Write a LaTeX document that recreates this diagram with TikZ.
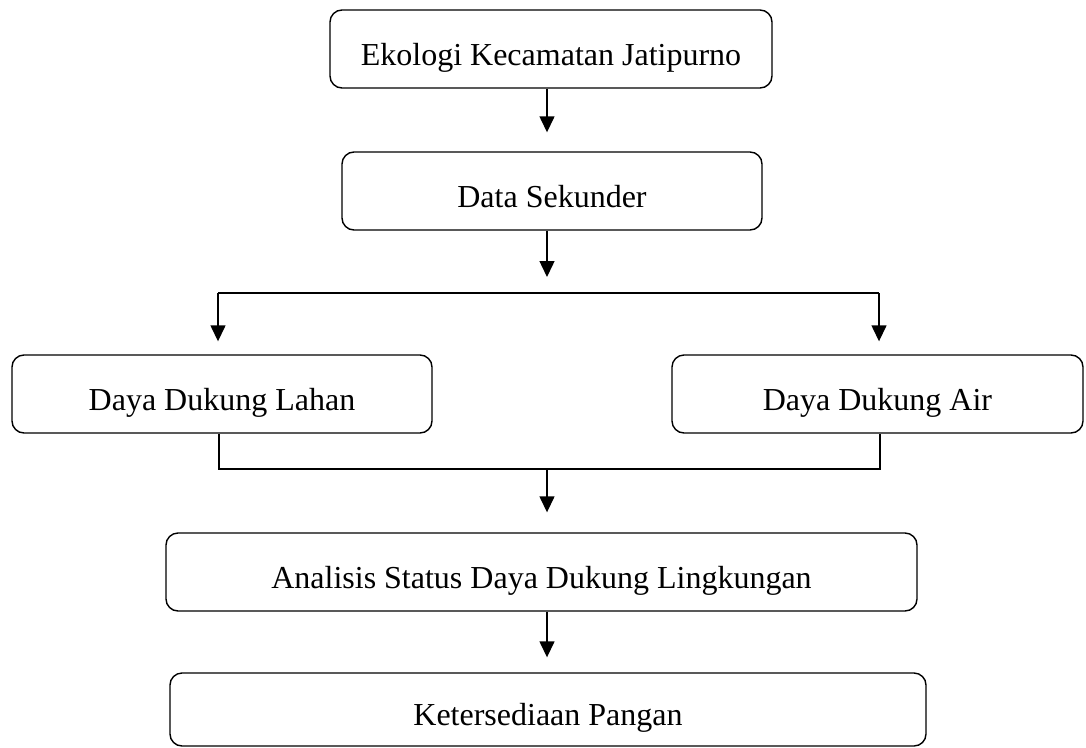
\documentclass[tikz,border=0pt]{standalone}
\usepackage{fontspec}
\setmainfont{Liberation Serif}
\usetikzlibrary{arrows.meta,positioning}

\begin{document}
\begin{tikzpicture}[x=1pt,y=-1pt,>={Triangle[length=16pt,width=15pt]},
  line width=1.4pt,
  box/.style={draw,rounded corners=12pt,inner sep=0pt,minimum height=78pt,
    text height=32pt,text depth=0pt,font=\fontsize{32}{38}\selectfont}]
  \useasboundingbox (0,0) rectangle (1086,747);
  \node[box,minimum width=442pt] (eko) at (551,49) {Ekologi Kecamatan Jatipurno};
  \node[box,minimum width=420pt] (ds) at (552,191) {Data Sekunder};
  \node[box,minimum width=420pt] (lahan) at (222,394) {Daya Dukung Lahan};
  \node[box,minimum width=411pt] (air) at (877.5,394) {Daya Dukung Air};
  \node[box,minimum width=751pt] (asdl) at (541.5,572) {Analisis Status Daya Dukung Lingkungan};
  \node[box,minimum width=756pt,minimum height=73pt] (kp) at (548,709.5) {Ketersediaan Pangan};
  % branch and join points
  \coordinate (split) at (547,293);
  \coordinate (sl) at (218,293);
  \coordinate (sr) at (879,293);
  \coordinate (join) at (547,469);
  \coordinate (jl) at (219,469);
  \coordinate (jr) at (880,469);
  \draw[->,shorten >=19pt] (eko.south -| split) -- (ds.north -| split);
  \draw[->,shorten >=16pt] (ds.south -| split) -- (split);
  \draw (sl) -- (sr);
  \draw[->,shorten >=13pt] (sl) -- (sl |- lahan.north);
  \draw[->,shorten >=13pt] (sr) -- (sr |- air.north);
  \draw (jl |- lahan.south) -- (jl) -- (jr) -- (jr |- air.south);
  \draw[->,shorten >=20pt] (join) -- (join |- asdl.north);
  \draw[->,shorten >=15pt] (asdl.south -| join) -- (join |- kp.north);
\end{tikzpicture}
\end{document}
